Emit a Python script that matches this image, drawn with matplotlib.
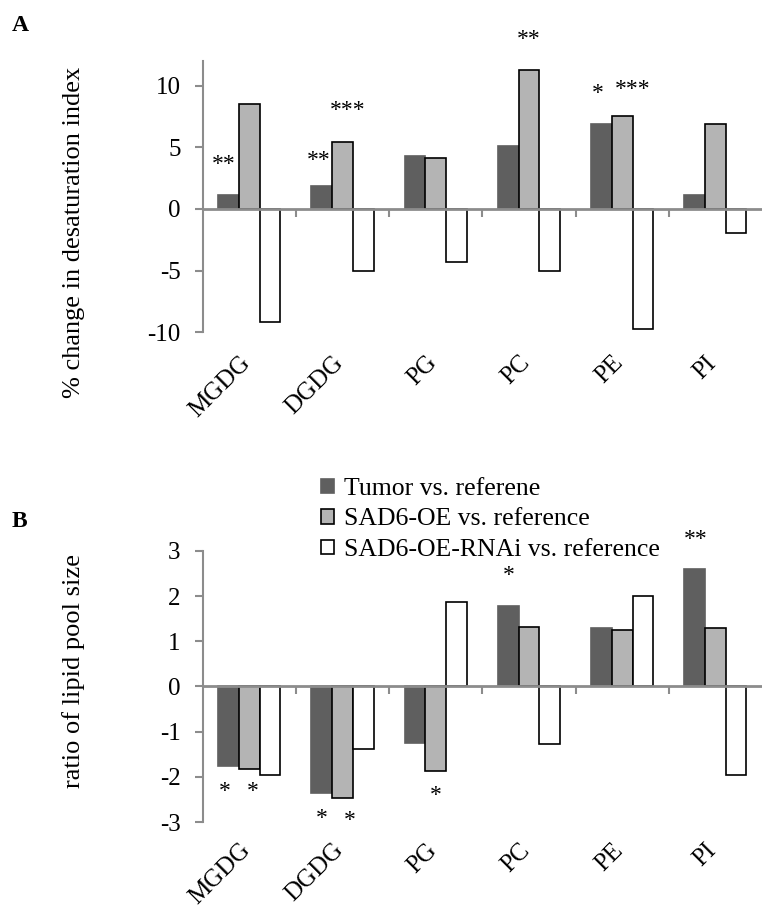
import numpy as np
import matplotlib
matplotlib.use("Agg")
import matplotlib.pyplot as plt
import matplotlib.transforms as mtransforms

plt.rcParams['font.family'] = ['Liberation Serif', 'DejaVu Serif']

lipids = ["MGDG", "DGDG", "PG", "PC", "PE", "PI"]
series = ["Tumor vs. referene", "SAD6-OE vs. reference", "SAD6-OE-RNAi vs. reference"]

# panel A: % change in desaturation index
desat_tumor = [1.15, 1.85, 4.3, 5.08, 6.86, 1.1]
desat_oe = [8.5, 5.45, 4.12, 11.25, 7.5, 6.9]
desat_rnai = [-9.15, -5.0, -4.3, -5.07, -9.72, -1.95]

# panel B: ratio of lipid pool size
pool_tumor = [-1.75, -2.35, -1.25, 1.78, 1.30, 2.61]
pool_oe = [-1.83, -2.46, -1.87, 1.32, 1.25, 1.30]
pool_rnai = [-1.95, -1.39, 1.86, -1.27, 2.00, -1.95]

# significance marks (text, x in category units, y in data units)
stars_a = [("**", -0.27, 3.6), ("**", 0.75, 3.9), ("***", 1.06, 7.95),
           ("**", 3.0, 13.7), ("*", 3.74, 9.35), ("***", 4.11, 9.7)]
stars_b = [("*", -0.26, -2.32), ("*", 0.04, -2.32), ("*", 0.78, -2.92),
           ("*", 1.08, -2.96), ("*", 2.0, -2.42), ("*", 2.78, 2.46),
           ("**", 4.79, 3.26)]

colors = ["#5f5f5f", "#b4b4b4", "#ffffff"]
edges = ["#5f5f5f", "#000000", "#000000"]
axis_grey = "#8c8c8c"

fig = plt.figure(figsize=(7.62, 9.08), dpi=100)
ax_a = fig.add_axes([0.266, 0.634, 0.734, 0.299])
ax_b = fig.add_axes([0.266, 0.0947, 0.734, 0.2985])

x = np.arange(len(lipids))
w = 0.222


def draw_panel(ax, vals, ylim, yticks, ylabel, label_y, stars, label_gap):
    for k, v in enumerate(vals):
        ax.bar(x + (k - 1) * w, v, width=w, color=colors[k], edgecolor=edges[k],
               linewidth=1.2, label=series[k], zorder=2)
    ax.set_xlim(-0.5, len(lipids) - 0.5)
    ax.set_ylim(*ylim)
    ax.set_yticks(yticks)
    ax.set_yticklabels([str(t) for t in yticks], fontsize=18)
    for s in ["top", "right"]:
        ax.spines[s].set_visible(False)
    ax.spines["left"].set_color(axis_grey)
    ax.spines["left"].set_linewidth(1.5)
    ax.spines["bottom"].set_position(("data", 0))
    ax.spines["bottom"].set_color(axis_grey)
    ax.spines["bottom"].set_linewidth(2)
    ax.spines["bottom"].set_zorder(3)
    ax.set_xticks(np.arange(0.5, len(lipids) - 0.5))
    ax.tick_params(axis="x", length=5.5, width=1.5, color=axis_grey, labelbottom=False)
    ax.tick_params(axis="y", length=5.8, width=1.5, color=axis_grey, pad=10)
    ax.set_ylabel(ylabel, fontsize=19)
    ax.yaxis.set_label_coords(-0.21, label_y)
    trans = mtransforms.blended_transform_factory(ax.transData, ax.transAxes)
    for i, name in enumerate(lipids):
        ax.text(i - 0.11, -label_gap, name, transform=trans, rotation=45,
                ha="right", va="top", rotation_mode="anchor", fontsize=18)
    for s, sx, sy in stars:
        ax.text(sx, sy, s, ha="center", va="center", fontsize=17, clip_on=False)


draw_panel(ax_a, [desat_tumor, desat_oe, desat_rnai], (-10, 12), [-10, -5, 0, 5, 10],
           "% change in desaturation index", 0.369, stars_a, 0.072)
draw_panel(ax_b, [pool_tumor, pool_oe, pool_rnai], (-3, 3), [-3, -2, -1, 0, 1, 2, 3],
           "ratio of lipid pool size", 0.557, stars_b, 0.064)

ax_b.legend(loc="upper left", bbox_to_anchor=(0.421, 1 - 478 / 908),
            bbox_transform=fig.transFigure, frameon=False,
            fontsize=18.5, handlelength=0.5, handleheight=0.5, handletextpad=0.4,
            labelspacing=0.33, borderpad=0, borderaxespad=0)

fig.text(0.015, 0.972, "A", fontsize=17, fontweight="bold", va="center")
fig.text(0.015, 0.426, "B", fontsize=17, fontweight="bold", va="center")

fig.savefig("out.png", dpi=100)
